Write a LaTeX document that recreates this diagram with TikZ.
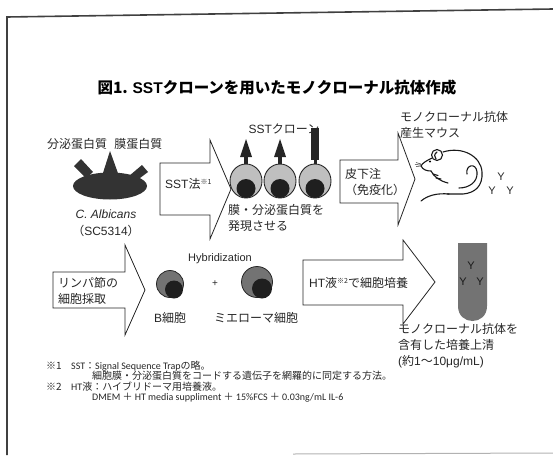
\documentclass[tikz,border=0pt]{standalone}
\usepackage{fontspec}
\setmainfont{Noto Sans CJK JP}
\newfontfamily\latf{Liberation Sans}
\newfontfamily\notef{Carlito}
\newcommand{\supmark}[1]{\raisebox{0.55ex}{\fontsize{7}{7}\selectfont #1}}
\begin{document}
\begin{tikzpicture}[x=1pt,y=-1pt,
  blockarrow/.style={draw=black!85, line width=0.8pt, fill=white, line join=miter},
  lbl/.style={inner sep=0pt, font=\fontsize{12}{16}\selectfont, text=black!85},
  note/.style={inner sep=0pt, anchor=north west, align=left, font=\fontsize{10}{10.5}\selectfont, text=black!85},
  cellout/.style={draw=black!85, line width=0.9pt, fill=black!25},
  ab/.style={inner sep=0pt, font=\latf\fontsize{11}{11}\selectfont, text=black!85},
  mouse/.style={draw=black!90, line width=1.1pt, line cap=round, line join=round}
]
\useasboundingbox (0,0) rectangle (553,455);

% frame
\draw[black!75, line width=1.6pt] (7,455) -- (7,17) -- (553,9);
\draw[black!30, line width=1pt] (293,454) -- (553,453);

% title
\node[inner sep=0pt, font=\bfseries\fontsize{15.5}{18}\selectfont] (title) at (277,88)
  {図1. {\latf\bfseries SST}クローンを用いたモノクローナル抗体作成};

% ---- C. albicans ----
\node[lbl, anchor=west] (prot) at (47,144) {分泌蛋白質\hspace{0.6em}膜蛋白質};
\fill[black!80] (74,166) -- (81,159) -- (93,172) -- (86,178) -- cycle;
\fill[black!80] (102,176) -- (110,151) -- (119,176) -- cycle;
\fill[black!80] (129,176) -- (142,165) -- (148,172) -- (136,181) -- cycle;
\fill[black!80] (110,186) ellipse [x radius=37, y radius=13.5];
\node[lbl, font=\latf\itshape\fontsize{12}{14}\selectfont] (calb) at (106,214) {C. Albicans};
\node[lbl] (strain) at (106,231) {（{\latf SC5314}）};

% arrow: SST
\draw[blockarrow] (160,163) -- (210,163) -- (210,140) -- (231,189) -- (210,239) -- (210,215) -- (160,215) -- cycle;
\node[lbl, anchor=west] (sst) at (165,184) {{\latf SST}法\supmark{※1}};

% ---- SST clones ----
\node[lbl] (clone) at (284,129) {{\latf SST}クローン};
\foreach \cx in {246,280} {
  \fill[black!85] (\cx-1.8,157) rectangle (\cx+1.8,166);
  \fill[black!85] (\cx-6,157) -- (\cx,139) -- (\cx+6,157) -- cycle;
}
\fill[black!85] (311,128) rectangle (319,160);
\fill[black!85] (313.5,159) rectangle (316.5,166);
\foreach \cx in {246,280,315} {
  \draw[cellout] (\cx,181) ellipse [x radius=16, y radius=17];
  \fill[black!88] (\cx,188.5) circle (9.5);
}
\node[lbl, anchor=west, align=left] (expr) at (228,218) {膜・分泌蛋白質を\\発現させる};

% arrow: immunisation
\draw[blockarrow] (340,160) -- (398,160) -- (398,133) -- (415,179) -- (398,225) -- (398,203) -- (340,203) -- cycle;
\node[lbl, anchor=west, align=left] (inj) at (345,182) {皮下注\\ （免疫化）};

% ---- mouse ----
\node[lbl, anchor=west, align=left] (mlabel) at (400,125) {モノクローナル抗体\\産生マウス};
\draw[mouse] (437,155) circle (5.5);
\draw[mouse] (437,152) .. controls (434,154) and (434,157) .. (436,159);
\draw[mouse] (443,152) .. controls (462,146) and (481,156) .. (482,172) .. controls (483,186) and (475,193) .. (463,194) -- (447,194);
\draw[mouse] (432,158) .. controls (428,160) and (422,163) .. (421,166) .. controls (423,170) and (427,171) .. (431,171);
\draw[mouse] (431,171) .. controls (434,177) and (440,181) .. (448,183);
\draw[mouse] (433,174) -- (438,175.5) (436,178) -- (441,179);
\draw[mouse] (467,174) .. controls (465,165) and (476,162) .. (477,172) .. controls (478,182) and (469,188) .. (459,188);
\draw[mouse] (449,194) .. controls (438,193) and (428,195) .. (421,201);
\fill[black] (430,161.5) circle (1.2);
\draw[black!80, line width=0.5pt] (421,164) -- (416,162.5) (421,166) -- (416,166.5) (421,165) -- (415,164.5);
\node[ab] (y1) at (501,177) {Y};
\node[ab] (y2) at (492,191) {Y};
\node[ab] (y3) at (510,191) {Y};

% arrow: lymph node
\draw[blockarrow] (53,272) -- (125,272) -- (125,245) -- (145,290) -- (125,335) -- (125,308) -- (53,308) -- cycle;
\node[lbl, anchor=west, align=left] (lymph) at (58,291) {リンパ節の\\細胞採取};

% ---- hybridization ----
\node[lbl, font=\latf\fontsize{11}{13}\selectfont] (hyb) at (220,259) {Hybridization};
\draw[black!85, line width=0.8pt, fill=black!55] (170,284) circle (13.5);
\fill[black!88] (174,289.5) circle (9);
\node[lbl, font=\latf\fontsize{10}{10}\selectfont] (plus) at (215,284) {+};
\draw[black!85, line width=0.8pt, fill=black!55] (257,282) circle (15.5);
\fill[black!88] (262,288.5) circle (10);
\node[lbl] (bcell) at (170,318) {{\latf B}細胞};
\node[lbl] (myel) at (256,318) {ミエローマ細胞};

% arrow: HT culture
\draw[blockarrow] (303,260) -- (403,260) -- (403,240) -- (435,282) -- (403,324) -- (403,305) -- (303,305) -- cycle;
\node[lbl, anchor=west] (ht) at (309,283) {{\latf HT}液\supmark{※2}で細胞培養};

% culture tube
\fill[black!55] (458,243) -- (458,306) .. controls (458,326) and (487,326) .. (487,306) -- (487,243) -- cycle;
\node[ab, text=black!90] (t1) at (471,266) {Y};
\node[ab, text=black!90] (t2) at (463,282) {Y};
\node[ab, text=black!90] (t3) at (480,282) {Y};
\node[lbl, anchor=west, align=left] (sup) at (398,346) {モノクローナル抗体を\\含有した培養上清\\{\latf (}約{\latf 1}〜{\latf 10μg/mL)}};

% footnotes
\node[note] (notes) at (46,360.5) {%
\makebox[25pt][l]{※1}{\notef SST}：{\notef Signal Sequence Trap}の略。\\
\hspace{46pt}細胞膜・分泌蛋白質をコードする遺伝子を網羅的に同定する方法。\\
\makebox[25pt][l]{※2}{\notef HT}液：ハイブリドーマ用培養液。\\
\hspace{46pt}{\notef DMEM} ＋ {\notef HT media suppliment} ＋ {\notef 15\%FCS} ＋ {\notef 0.03ng/mL IL-6}};
\end{tikzpicture}
\end{document}
